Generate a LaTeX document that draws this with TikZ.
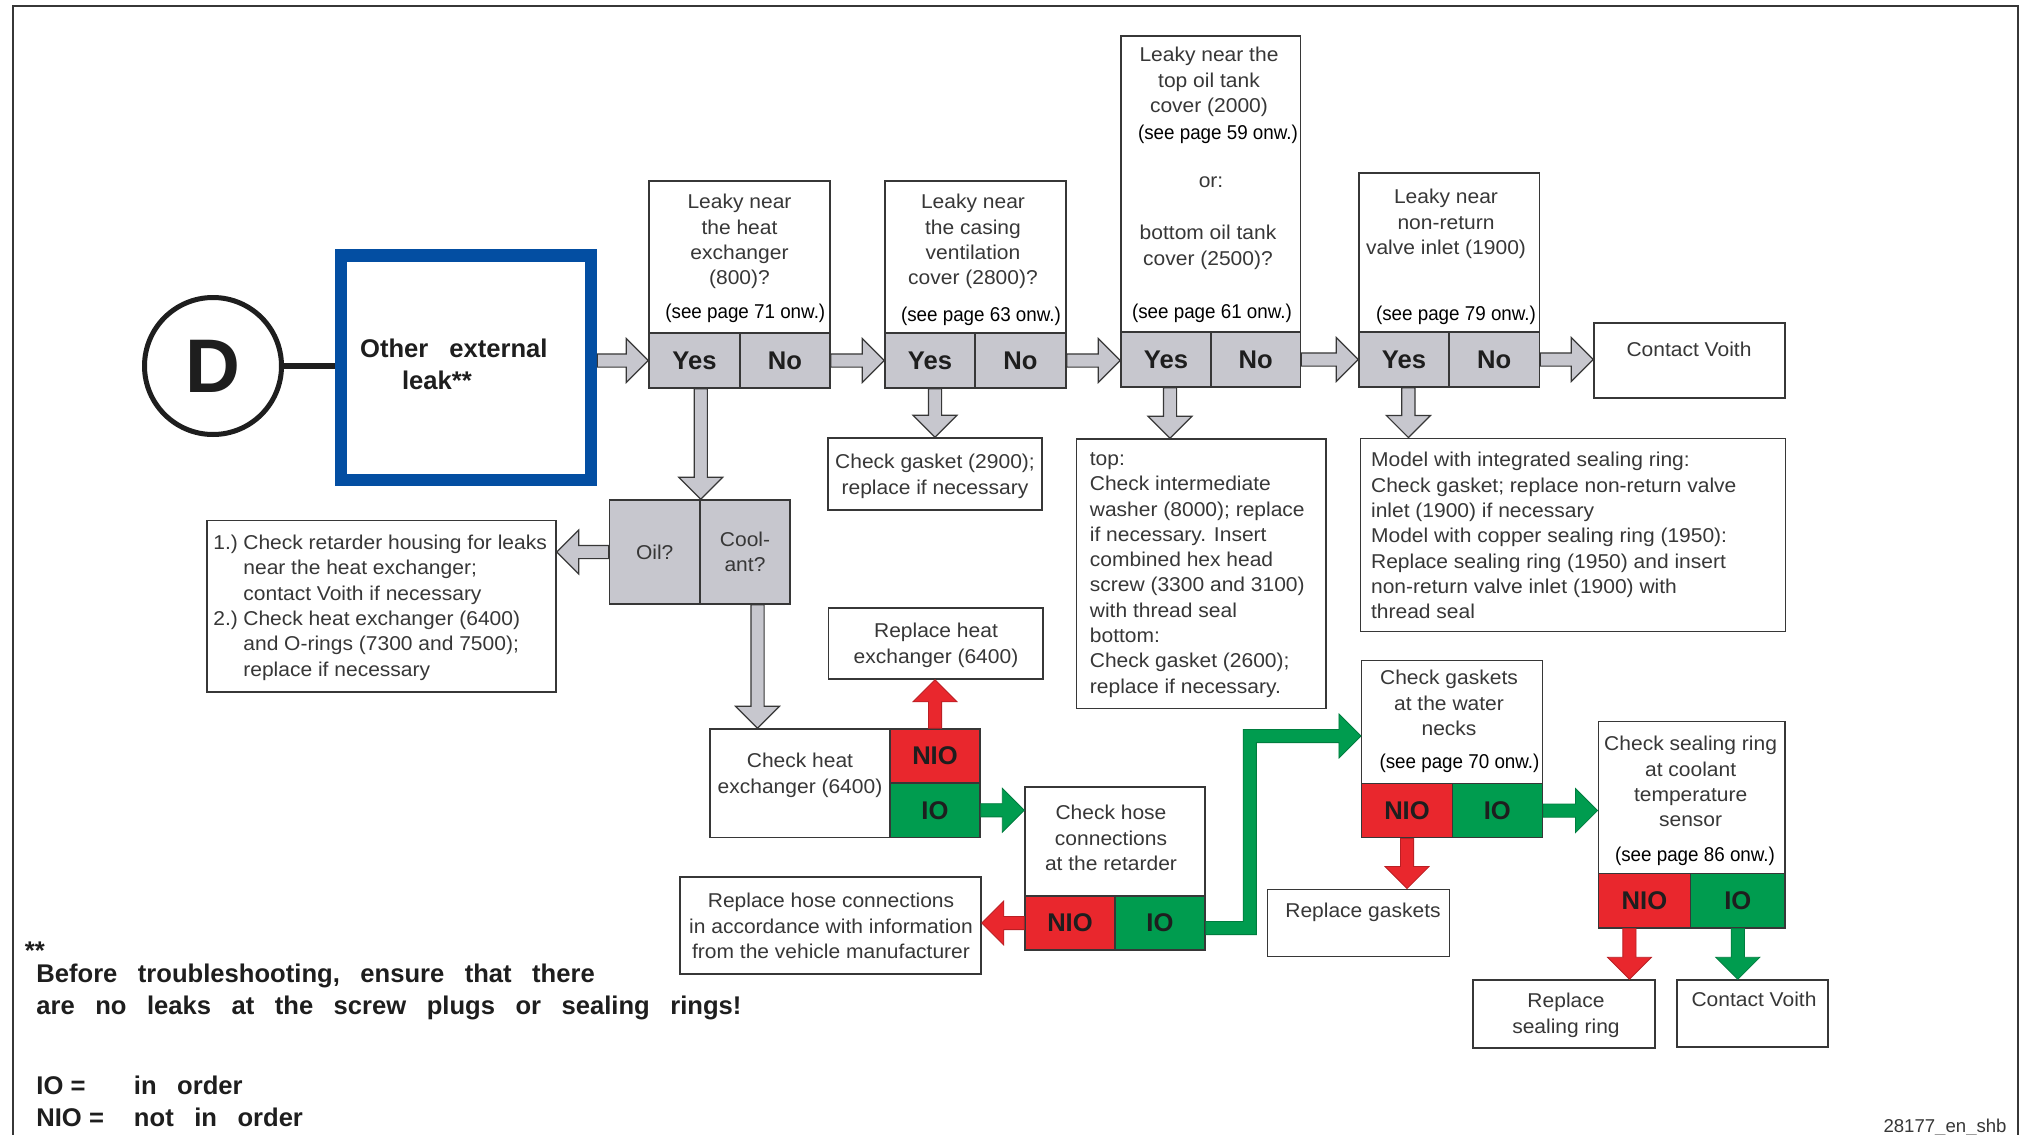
\documentclass[tikz,border=0pt]{standalone}
\usepackage{fontspec}
\setmainfont{Liberation Sans}
\newfontfamily\bodyfont{Liberation Sans}[FakeStretch=1.05]
\newfontfamily\pagefont{Liberation Sans}[FakeStretch=0.94]
\usetikzlibrary{calc,fit}

\definecolor{cellgray}{RGB}{199,199,206}
\definecolor{nioRed}{RGB}{233,39,45}
\definecolor{ioGreen}{RGB}{0,156,79}
\definecolor{voithBlue}{RGB}{3,78,162}
\definecolor{edge}{RGB}{55,55,55}
\definecolor{ink}{RGB}{55,55,55}
\definecolor{deep}{RGB}{30,30,30}

% wide word spacing for the bold notes
\newcommand\widewords{\spaceskip=0.8em\relax}

% horizontal block arrow: runs at the height of #2 and ends at the x of #3
\newcommand\blockarrowh[3]{%
  \path[#1] let \p1=(#2), \p2=(#3), \n1={\x2-11pt*sign((\x2)-(\x1))} in
    (\x1,{\y1+3.3pt}) -- ({\n1*1pt},{\y1+3.3pt}) -- ({\n1*1pt},{\y1+11pt}) -- (\x2,\y1)
    -- ({\n1*1pt},{\y1-11pt}) -- ({\n1*1pt},{\y1-3.3pt}) -- (\x1,{\y1-3.3pt}) -- cycle;}
% vertical block arrow: runs at the x of #2 and ends at the height of #3
\newcommand\blockarrowv[3]{%
  \path[#1] let \p1=(#2), \p2=(#3), \n1={\y2-11pt*sign((\y2)-(\y1))} in
    ({\x1-3.3pt},\y1) -- ({\x1-3.3pt},{\n1*1pt}) -- ({\x1-11pt},{\n1*1pt}) -- (\x1,\y2)
    -- ({\x1+11pt},{\n1*1pt}) -- ({\x1+3.3pt},{\n1*1pt}) -- ({\x1+3.3pt},\y1) -- cycle;}

\tikzset{
  box/.style={draw=edge, line width=0.75pt, fill=white, inner sep=0pt},
  cellfont/.style={inner sep=0pt, text=deep, font=\bfseries\fontsize{12.8}{15}\selectfont},
  graycell/.style={box, fill=cellgray},
  redcell/.style={box, fill=nioRed},
  greencell/.style={box, fill=ioGreen},
  body/.style={inner sep=0pt, text=ink, font=\bodyfont\fontsize{10}{12.65}\selectfont},
  bodyc/.style={body, align=center, anchor=north},
  bodyl/.style={body, align=left, anchor=north west},
  bodyline/.style={body, anchor=base},
  pageref/.style={inner sep=0pt, anchor=base, text=black, font=\pagefont\fontsize{10}{12}\selectfont},
  grayarrow/.style={fill=cellgray, draw=edge, line width=0.6pt},
  redarrow/.style={fill=nioRed, draw=nioRed!80!black, line width=0.4pt},
  greenarrow/.style={fill=ioGreen, draw=ioGreen!80!black, line width=0.4pt},
  footbold/.style={inner sep=0pt, anchor=base west, text=deep,
    font=\bfseries\fontsize{12.8}{16}\selectfont},
}

\begin{document}
\begin{tikzpicture}[x=0.5pt,y=-0.5pt]
\useasboundingbox (0,0) rectangle (2025,1135);
\fill[white] (0,0) rectangle (2025,1135);

% page frame
\draw[edge, line width=0.8pt] (13,1135) -- (13,6) -- (2018,6) -- (2018,1135);

% start symbol and entry box
\node[circle, draw=deep, line width=2.5pt, minimum size=68.5pt, inner sep=0pt,
      text=deep, font=\bfseries\fontsize{38}{40}\selectfont] (d) at (213,366) {D};
\node[draw=voithBlue, line width=6.15pt, fill=white, inner sep=0pt,
      fit={(341.2,255.5)(591.2,479.7)}] (blue) {};
\node[inner sep=0pt, anchor=north west, align=left, text=deep,
      font=\bfseries\fontsize{12.8}{15.85}\selectfont]
      (bluet) at (359.7,335.1) {\strut Other\hspace{10.5pt}external\\\hspace*{21pt}leak**};
\draw[deep, line width=3pt] (d.east) -- (d.east -| blue.west);

% question 1: heat exchanger
\node[box, fit={(649,181)(830,333)}] (q1) {};
\node[graycell, fit={(649,333)(740,388)}, label={[cellfont]center:Yes}] (q1yes) {};
\node[graycell, fit={(740,333)(830,388)}, label={[cellfont]center:No}] (q1no) {};
\node[bodyc] (q1t) at (739.5,190.6) {\strut Leaky near\\the heat\\exchanger\\(800)?};
\node[pageref] (q1p) at (745.3,318.3) {(see page 71 onw.)};

% question 2: casing ventilation cover
\node[box, fit={(885,181)(1066,333)}] (q2) {};
\node[graycell, fit={(885,333)(975,388)}, label={[cellfont]center:Yes}] (q2yes) {};
\node[graycell, fit={(975,333)(1066,388)}, label={[cellfont]center:No}] (q2no) {};
\node[bodyc] (q2t) at (973,190.8) {\strut Leaky near\\the casing\\ventilation\\cover (2800)?};
\node[pageref] (q2p) at (981,321.5) {(see page 63 onw.)};

% question 3: oil tank covers
\node[box, fit={(1121,36)(1300.5,332)}] (q3) {};
\node[graycell, fit={(1121,332)(1211,387)}, label={[cellfont]center:Yes}] (q3yes) {};
\node[graycell, fit={(1211,332)(1300.5,387)}, label={[cellfont]center:No}] (q3no) {};
\node[bodyc] (q3a) at (1209,43.8) {\strut Leaky near the\\top oil tank\\cover (2000)};
\node[pageref] (q3p1) at (1218,139) {(see page 59 onw.)};
\node[bodyline] (q3or) at (1211,187.8) {or:};
\node[bodyc] (q3b) at (1208,221.8) {\strut bottom oil tank\\cover (2500)?};
\node[pageref] (q3p2) at (1212,318.5) {(see page 61 onw.)};

% question 4: non-return valve inlet
\node[box, fit={(1359,173)(1539.5,332)}] (q4) {};
\node[graycell, fit={(1359,332)(1449,387)}, label={[cellfont]center:Yes}] (q4yes) {};
\node[graycell, fit={(1449,332)(1539.5,387)}, label={[cellfont]center:No}] (q4no) {};
\node[bodyc] (q4t) at (1446,185.8) {\strut Leaky near\\non-return\\valve inlet (1900)};
\node[pageref] (q4p) at (1456,320.5) {(see page 79 onw.)};

\node[box, fit={(1594,323)(1785,398)}] (cv1) {};
\node[bodyline] (cv1t) at (1689,356.5) {Contact Voith};

% actions below the questions
\node[box, fit={(828,438)(1042,510)}] (gask) {};
\node[bodyc] (gaskt) at (935,450.8) {\strut Check gasket (2900);\\replace if necessary};

\node[box, fit={(1076.5,439)(1326,708.5)}] (tb) {};
\node[bodyl] (tbt) at (1089.5,447.3) {\strut top:\\Check intermediate\\washer (8000); replace\\if necessary. Insert\\combined hex head\\screw (3300 and 3100)\\with thread seal\\bottom:\\Check gasket (2600);\\replace if necessary.};

\node[box, fit={(1360.7,438.3)(1785.7,631.7)}] (model) {};
\node[bodyl] (modelt) at (1370.7,448.8) {\strut Model with integrated sealing ring:\\Check gasket; replace non-return valve\\inlet (1900) if necessary\\Model with copper sealing ring (1950):\\Replace sealing ring (1950) and insert\\non-return valve inlet (1900) with\\thread seal};

% oil or coolant
\node[graycell, fit={(609.5,500)(700,604)}, label={[body]center:Oil?}] (oil) {};
\node[graycell, fit={(700,500)(790,604)}, label={[body, align=center]center:{Cool-\\ant?}}] (cool) {};

\node[box, fit={(207,520.5)(556,692)}] (box1) {};
\node[bodyl] (box1t) at (213,531.5) {\strut\makebox[15pt][l]{1.)}Check retarder housing for leaks\\\hspace*{15pt}near the heat exchanger;\\\hspace*{15pt}contact Voith if necessary\\\makebox[15pt][l]{2.)}Check heat exchanger (6400)\\\hspace*{15pt}and O-rings (7300 and 7500);\\\hspace*{15pt}replace if necessary};

% heat exchanger check
\node[box, fit={(710,729)(890,837.5)}] (hx) {};
\node[redcell, fit={(890,729)(980,783)}, label={[cellfont]center:NIO}] (hxnio) {};
\node[greencell, fit={(890,783)(980,837.5)}, label={[cellfont]center:IO}] (hxio) {};
\node[bodyc] (hxt) at (800,749.8) {\strut Check heat\\exchanger (6400)};

\node[box, fit={(828.6,608)(1043,679)}] (rhx) {};
\node[bodyc] (rhxt) at (936,619.8) {\strut Replace heat\\exchanger (6400)};

% hose connections check
\node[box, fit={(1025,787)(1205,896)}] (hose) {};
\node[redcell, fit={(1025,896)(1115,950)}, label={[cellfont]center:NIO}] (hnio) {};
\node[greencell, fit={(1115,896)(1205,950)}, label={[cellfont]center:IO}] (hio) {};
\node[bodyc] (hoset) at (1111,801.8) {\strut Check hose\\connections\\at the retarder};

\node[box, fit={(680,877)(981,974)}] (rhose) {};
\node[bodyc] (rhoset) at (831,889.8) {\strut Replace hose connections\\in accordance with information\\from the vehicle manufacturer};

% water neck gaskets check
\node[box, fit={(1361.7,660.5)(1542.3,783.5)}] (gtext) {};
\node[redcell, fit={(1361.7,783.5)(1452.3,837.7)}, label={[cellfont]center:NIO}] (gnio) {};
\node[greencell, fit={(1452.3,783.5)(1542.3,837.7)}, label={[cellfont]center:IO}] (gio) {};
\node[bodyc] (gtxt) at (1449,666.8) {\strut Check gaskets\\at the water\\necks};
\node[pageref] (gpage) at (1459.5,768.8) {(see page 70 onw.)};

\node[box, fit={(1267.7,889.3)(1449.3,956.7)}] (rgask) {};
\node[bodyline] (rgaskt) at (1363,917.2) {Replace gaskets};

% coolant temperature sensor check
\node[box, fit={(1598.3,721.4)(1785,873.5)}] (seal) {};
\node[redcell, fit={(1598.3,873.5)(1690.6,927.8)}, label={[cellfont]center:NIO}] (snio) {};
\node[greencell, fit={(1690.6,873.5)(1785,927.8)}, label={[cellfont]center:IO}] (sio) {};
\node[bodyc] (sealt) at (1690.6,732.8) {\strut Check sealing ring\\at coolant\\temperature\\sensor};
\node[pageref] (spage) at (1695,861.5) {(see page 86 onw.)};

\node[box, fit={(1473,980)(1655,1048)}] (rseal) {};
\node[bodyc] (rsealt) at (1566,989.8) {\strut Replace\\sealing ring};
\node[box, fit={(1677,980)(1828,1047)}] (cv2) {};
\node[bodyline] (cv2t) at (1754,1006.5) {Contact Voith};

% connectors
\blockarrowh{grayarrow}{blue.east |- q1yes.west}{q1yes.west}
\blockarrowh{grayarrow}{q1no.east}{q2yes.west}
\blockarrowh{grayarrow}{q2no.east}{q3yes.west}
\blockarrowh{grayarrow}{q3no.east}{q4yes.west}
\blockarrowh{grayarrow}{q4no.east}{cv1.west}
\blockarrowv{grayarrow}{q1yes.south -| oil.north east}{oil.north east}
\blockarrowv{grayarrow}{q2yes.south -| gask.north}{gask.north}
\blockarrowv{grayarrow}{[xshift=2pt]q3yes.south}{tb.north}
\blockarrowv{grayarrow}{[xshift=2.2pt]q4yes.south}{model.north}
\blockarrowh{grayarrow}{oil.west}{box1.east}
\blockarrowv{grayarrow}{[xshift=6.25pt]cool.south}{hx.north}
\blockarrowv{redarrow}{hxnio.north}{rhx.south}
\blockarrowh{greenarrow}{hxio.east}{hose.west}
\blockarrowh{redarrow}{hnio.west}{rhose.east}
\path[greenarrow] let \p1=([yshift=-2.5pt]hio.east), \p2=([yshift=-7pt]gtext.west), \n1={\x1+22pt} in
  (\x1,{\y1+3.3pt}) -- ({\n1*1pt-3.3pt},{\y1+3.3pt}) -- ({\n1*1pt-3.3pt},{\y2+3.3pt})
  -- ({\x2-11pt},{\y2+3.3pt}) -- ({\x2-11pt},{\y2+11pt}) -- (\x2,\y2) -- ({\x2-11pt},{\y2-11pt})
  -- ({\x2-11pt},{\y2-3.3pt}) -- ({\n1*1pt+3.3pt},{\y2-3.3pt}) -- ({\n1*1pt+3.3pt},{\y1-3.3pt})
  -- (\x1,{\y1-3.3pt}) -- cycle;
\blockarrowv{redarrow}{gnio.south}{rgask.north}
\blockarrowh{greenarrow}{gio.east}{seal.west}
\blockarrowv{redarrow}{[xshift=-7.5pt]snio.south}{rseal.north}
\blockarrowv{greenarrow}{sio.south}{cv2.north}

% footnotes
\node[footbold] (stars) at (24.5,959) {**};
\node[footbold] (note1) at (36,982) {\widewords Before troubleshooting, ensure that there};
\node[footbold] (note2) at (36,1014) {\widewords are no leaks at the screw plugs or sealing rings!};
\node[footbold] (iokey) at (36,1094) {\makebox[48.8pt][l]{IO\kern0.28em=}\widewords in order};
\node[footbold] (niokey) at (36,1126) {\makebox[48.8pt][l]{NIO\kern0.28em=}\widewords not in order};
\node[inner sep=0pt, anchor=base east, text=ink, font=\fontsize{9.3}{11}\selectfont]
  (docid) at (2007,1132.7) {28177\_en\_shb};
\end{tikzpicture}
\end{document}
